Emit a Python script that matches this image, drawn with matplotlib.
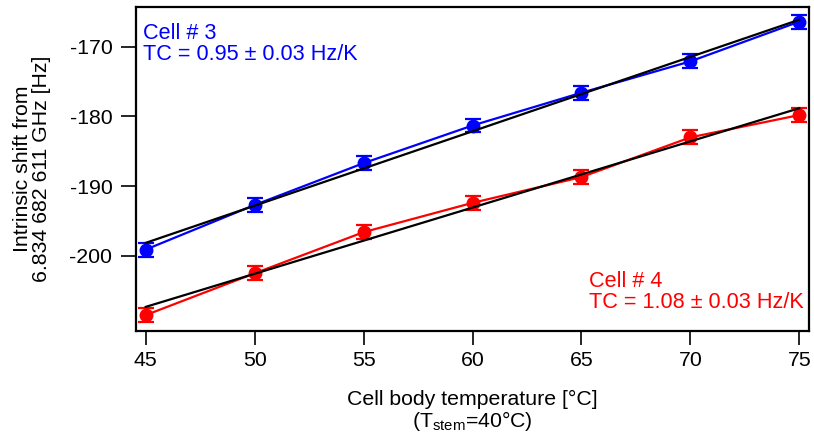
import numpy as np
import matplotlib
matplotlib.use("Agg")
import matplotlib.pyplot as plt

plt.rcParams['font.family'] = ['Liberation Sans', 'DejaVu Sans']
plt.rcParams['mathtext.fontset'] = 'custom'
plt.rcParams['mathtext.rm'] = 'Liberation Sans'
plt.rcParams['axes.unicode_minus'] = False

temps = [45, 50, 55, 60, 65, 70, 75]
cell3 = [-199.1, -192.7, -186.7, -181.3, -176.6, -172.1, -166.4]
cell3_err = [1.0, 1.0, 1.0, 1.0, 1.0, 1.0, 1.0]
cell4 = [-208.5, -202.5, -196.6, -192.4, -188.7, -183.0, -179.8]
cell4_err = [1.0, 1.0, 1.0, 1.0, 1.0, 1.0, 1.0]
xticks = [45, 50, 55, 60, 65, 70, 75]
yticks = [-200, -190, -180, -170]

fig = plt.figure(figsize=(8.14, 4.38), dpi=100)
ax = fig.add_axes([0.167, 0.244, 0.827, 0.740])

for y, err, col in [(cell3, cell3_err, '#0000ff'), (cell4, cell4_err, '#ff0000')]:
    ax.errorbar(temps, y, yerr=err, color=col, marker='o', markersize=9,
                linewidth=1.6, elinewidth=1.6, capsize=6, capthick=1.6, zorder=2)
    p = np.polyfit(temps, y, 1)
    xs = np.array([temps[0], temps[-1]])
    ax.plot(xs, np.polyval(p, xs), color='black', linewidth=1.6, zorder=3)

ax.set_xlim(44.55, 75.45)
ax.set_ylim(-210.8, -164.3)
ax.set_xticks(xticks)
ax.set_yticks(yticks)
ax.tick_params(axis='x', direction='out', length=10, width=1.2, labelsize=15.3, pad=4)
ax.tick_params(axis='y', direction='out', length=11, width=1.2, labelsize=15.3, pad=6)
for s in ax.spines.values():
    s.set_linewidth(1.6)

ax.set_xlabel('Cell body temperature [°C]\n(T$_\\mathregular{stem}$=40°C)', fontsize=15.3, labelpad=15, linespacing=1.0)
ax.set_ylabel('Intrinsic shift from\n6.834 682 611 GHz [Hz]', fontsize=15.3, labelpad=13, linespacing=1.0)

ax.text(0.011, 0.95, 'Cell # 3\nTC = 0.95 ± 0.03 Hz/K', transform=ax.transAxes,
        color='#0000ff', fontsize=15.6, va='top', ha='left', linespacing=1.0)
ax.text(0.992, 0.055, 'Cell # 4\nTC = 1.08 ± 0.03 Hz/K', transform=ax.transAxes,
        color='#ff0000', fontsize=15.6, va='bottom', ha='right', multialignment='left', linespacing=1.0)

fig.savefig('out.png', dpi=100)
